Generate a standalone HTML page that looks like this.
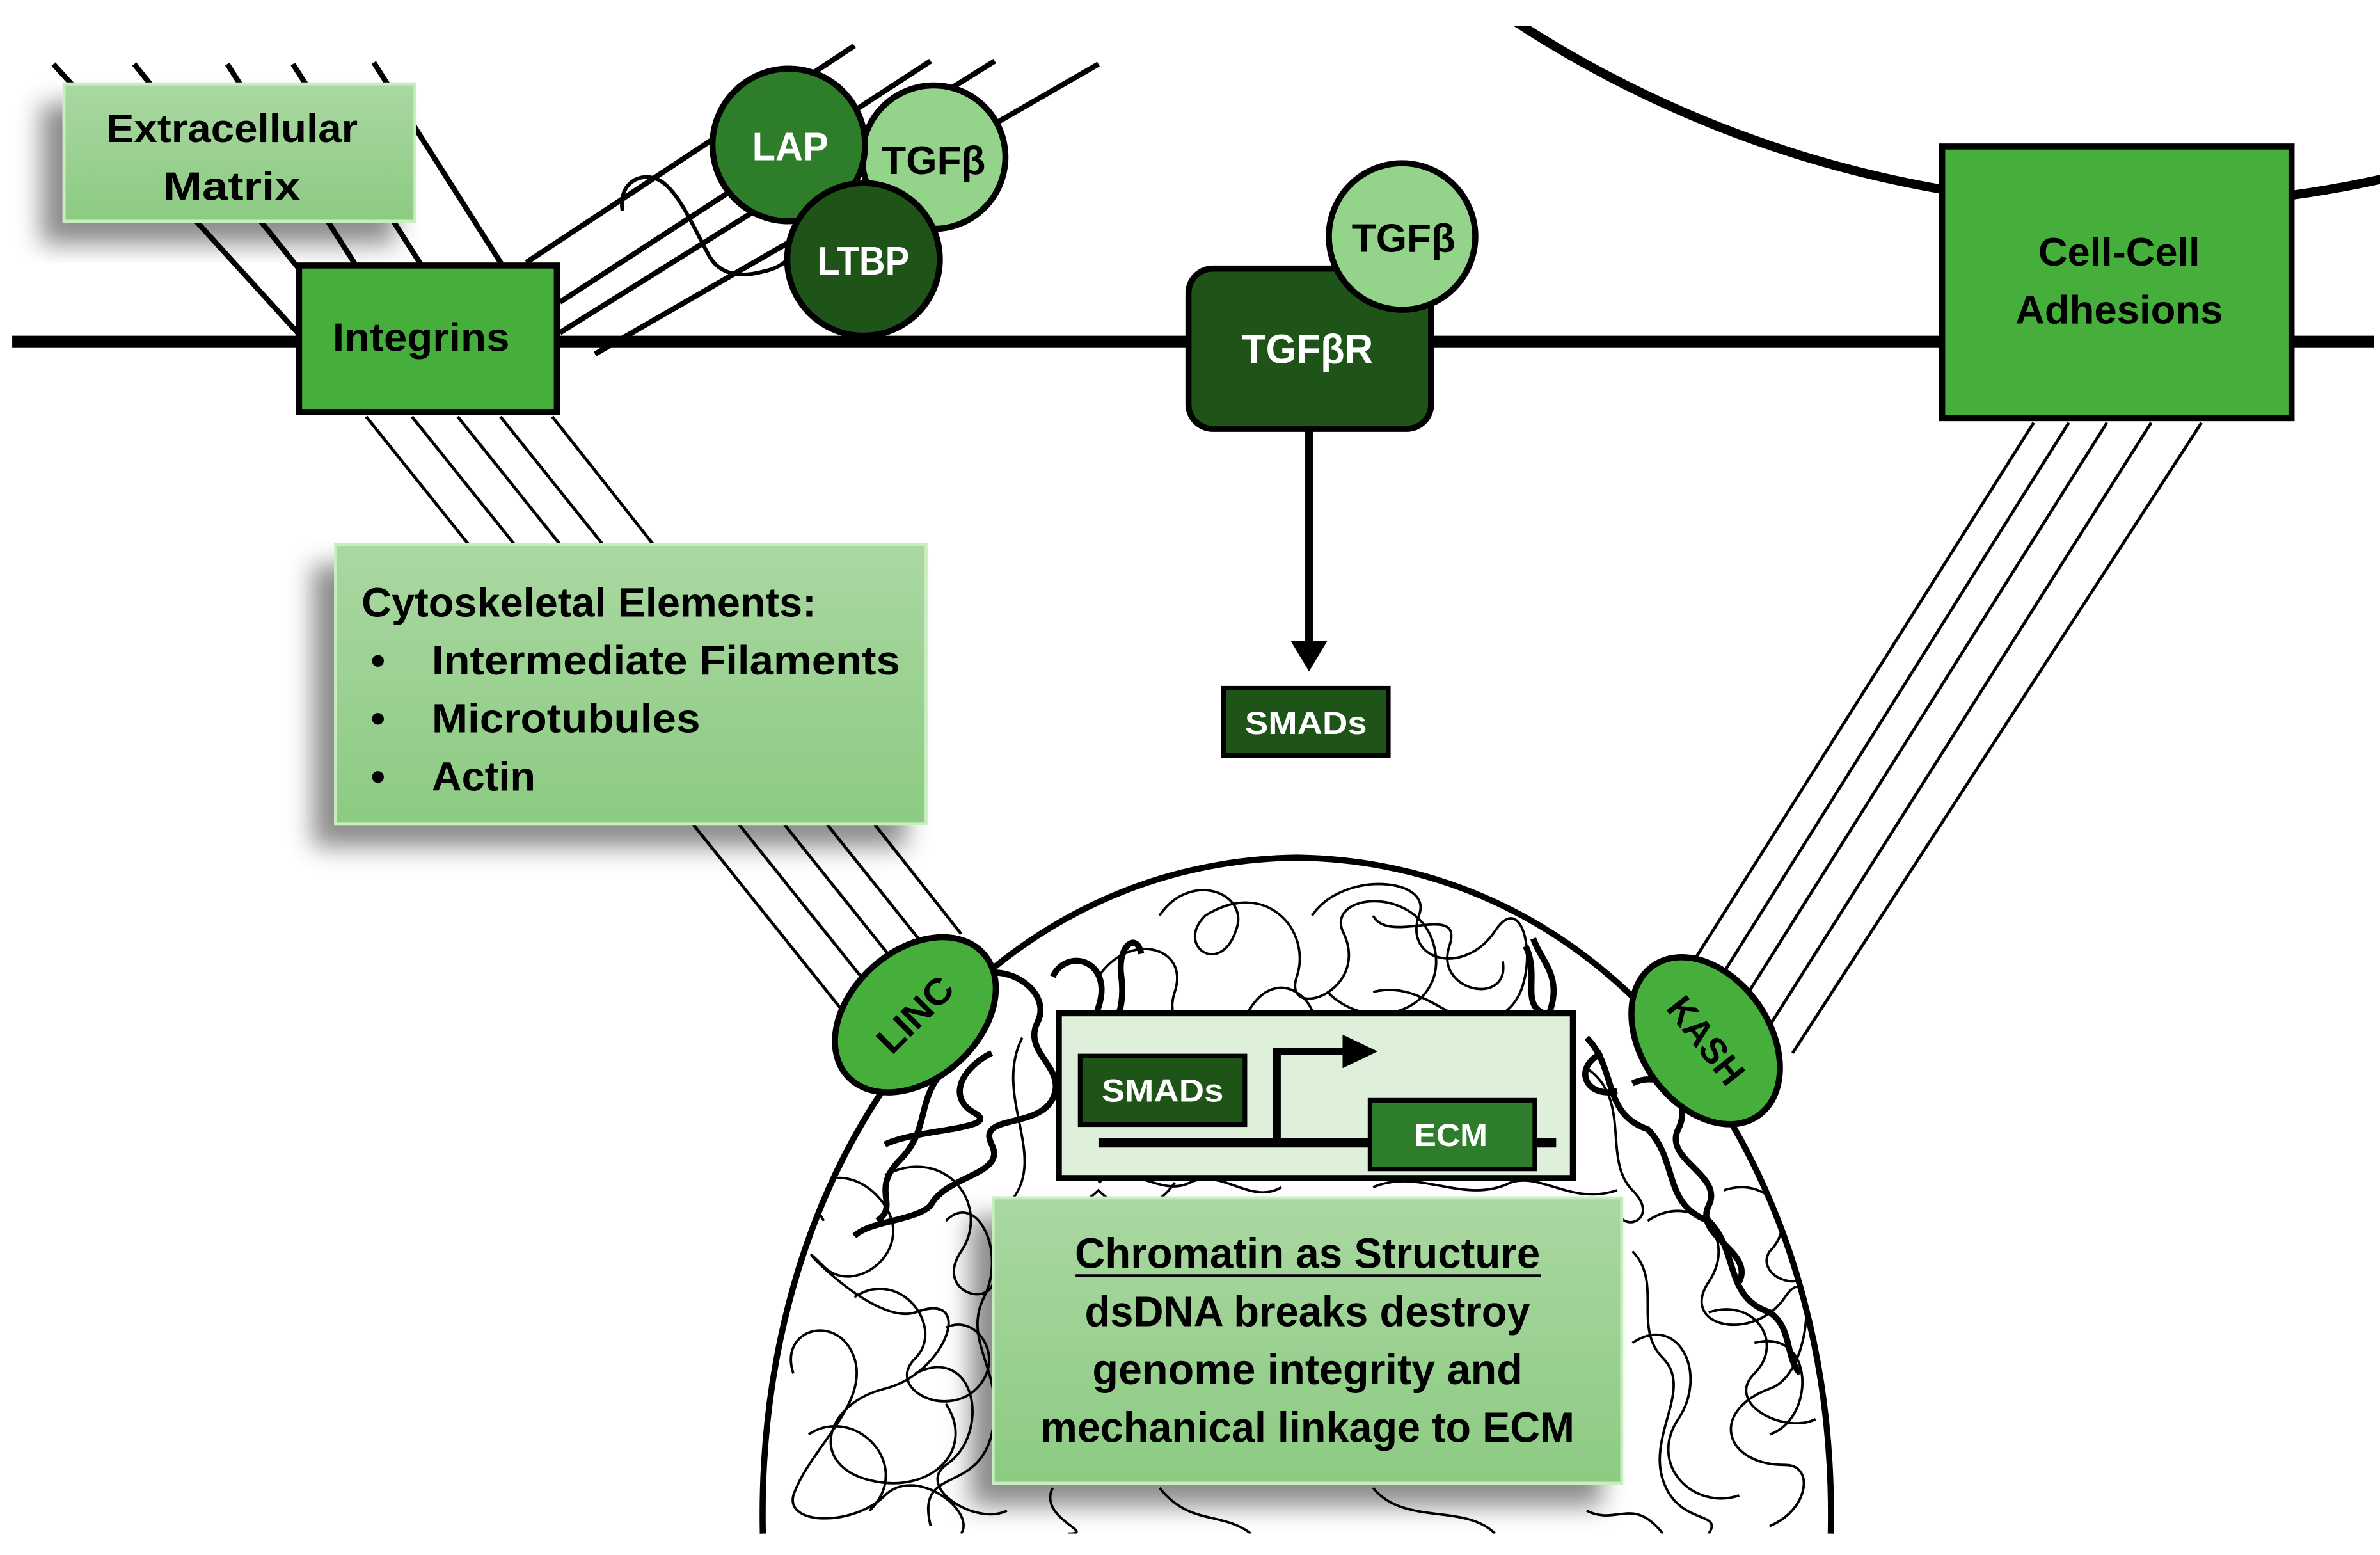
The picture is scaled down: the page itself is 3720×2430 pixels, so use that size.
<!DOCTYPE html>
<html><head><meta charset="utf-8"><style>
html,body{margin:0;padding:0;background:#fff;}
svg{display:block;}
text{font-family:"Liberation Sans",sans-serif;font-weight:bold;}
</style></head><body>
<svg width="3720" height="2430" viewBox="0 0 1560 1019" preserveAspectRatio="none" xmlns="http://www.w3.org/2000/svg">
<defs>
<linearGradient id="lg" x1="0" y1="0" x2="0" y2="1"><stop offset="0" stop-color="#aad8a2"/><stop offset="1" stop-color="#8ccb82"/></linearGradient>
<filter id="sh" x="-20%" y="-20%" width="140%" height="150%"><feDropShadow dx="-14" dy="14" stdDeviation="8" flood-color="#000" flood-opacity="0.45"/></filter>
<clipPath id="top"><rect x="0" y="17" width="1560" height="1002"/></clipPath>
<clipPath id="nuc"><path d="M500,1005 C495,760 640,565 850,562 C1060,565 1205,760 1200,1005 Z"/></clipPath>
</defs>

<circle cx="1400" cy="-610" r="745" fill="none" stroke="#000" stroke-width="6" clip-path="url(#top)"/>

<line x1="8" y1="224" x2="1556" y2="224" stroke="#000" stroke-width="8"/>

<g stroke="#000" stroke-width="3.5">
<line x1="35" y1="42" x2="195" y2="218"/>
<line x1="88" y1="42" x2="195" y2="175"/>
<line x1="149" y1="42" x2="234" y2="175"/>
<line x1="192" y1="42" x2="277" y2="175"/>
<line x1="245" y1="41" x2="330" y2="175"/>
</g>
<g stroke="#000" stroke-width="3.5" fill="none">
<line x1="345" y1="172" x2="560" y2="30"/>
<line x1="367" y1="198" x2="610" y2="40"/>
<line x1="367" y1="218" x2="652" y2="40"/>
<line x1="390" y1="232" x2="720" y2="42"/>
<path d="M408,138 C405,120 420,112 432,118 C445,125 455,150 465,168 C472,180 485,182 500,178 C510,176 515,172 518,168" stroke-width="2.5"/>
</g>

<rect x="42" y="55" width="230" height="90" fill="url(#lg)" filter="url(#sh)" stroke="#c8eec0" stroke-width="2"/>
<text x="152" y="93" font-size="26" text-anchor="middle" textLength="165" lengthAdjust="spacingAndGlyphs">Extracellular</text>
<text x="152" y="131" font-size="26" text-anchor="middle" textLength="90" lengthAdjust="spacingAndGlyphs">Matrix</text>

<rect x="196" y="174" width="169" height="96" fill="#46af3c" stroke="#000" stroke-width="4"/>
<text x="276" y="230" font-size="26" text-anchor="middle" textLength="116" lengthAdjust="spacingAndGlyphs">Integrins</text>

<circle cx="612" cy="103" r="47" fill="#94d38a" stroke="#000" stroke-width="4"/>
<text x="612" y="114" font-size="26" text-anchor="middle" textLength="68" lengthAdjust="spacingAndGlyphs">TGFβ</text>
<circle cx="517" cy="95" r="50" fill="#2e7d2a" stroke="#000" stroke-width="4"/>
<text x="518" y="105" font-size="26" fill="#fff" text-anchor="middle" textLength="50" lengthAdjust="spacingAndGlyphs">LAP</text>
<circle cx="566" cy="170" r="50" fill="#1e5418" stroke="#000" stroke-width="4"/>
<text x="566" y="180" font-size="26" fill="#fff" text-anchor="middle" textLength="60" lengthAdjust="spacingAndGlyphs">LTBP</text>

<rect x="779" y="176" width="159" height="105" rx="16" fill="#1e5418" stroke="#000" stroke-width="4"/>
<text x="857" y="238" font-size="27" fill="#fff" text-anchor="middle" textLength="86" lengthAdjust="spacingAndGlyphs">TGFβR</text>
<circle cx="919" cy="155" r="48" fill="#94d38a" stroke="#000" stroke-width="4"/>
<text x="920" y="165" font-size="26" text-anchor="middle" textLength="68" lengthAdjust="spacingAndGlyphs">TGFβ</text>
<line x1="858" y1="281" x2="858" y2="425" stroke="#000" stroke-width="5"/>
<path d="M846,420 L870,420 L858,440 Z" fill="#000"/>
<rect x="802" y="451" width="108" height="44" fill="#1e5418" stroke="#000" stroke-width="3"/>
<text x="856" y="481" font-size="21" fill="#fff" text-anchor="middle" textLength="80" lengthAdjust="spacingAndGlyphs">SMADs</text>

<rect x="1273" y="96" width="229" height="178" fill="#46af3c" stroke="#000" stroke-width="4"/>
<text x="1389" y="174" font-size="26" text-anchor="middle" textLength="106" lengthAdjust="spacingAndGlyphs">Cell-Cell</text>
<text x="1389" y="212" font-size="26" text-anchor="middle" textLength="136" lengthAdjust="spacingAndGlyphs">Adhesions</text>

<g stroke="#000" stroke-width="2">
<line x1="1333" y1="277" x2="1110" y2="630"/>
<line x1="1356" y1="277" x2="1125" y2="645"/>
<line x1="1381" y1="277" x2="1140" y2="660"/>
<line x1="1410" y1="277" x2="1160" y2="672"/>
<line x1="1443" y1="277" x2="1175" y2="690"/>
</g>

<g stroke="#000" stroke-width="2">
<line x1="240" y1="273" x2="560" y2="672"/>
<line x1="270" y1="273" x2="578" y2="657"/>
<line x1="300" y1="273" x2="594" y2="640"/>
<line x1="328" y1="273" x2="610" y2="625"/>
<line x1="362" y1="273" x2="630" y2="612"/>
</g>

<path d="M500,1005 C495,760 640,565 850,562 C1060,565 1205,760 1200,1005" fill="none" stroke="#000" stroke-width="4"/>

<g fill="none" stroke="#000" stroke-width="1.6" clip-path="url(#nuc)">
<path d="M760,600 C780,570 820,585 810,610 C800,640 770,620 790,600 C830,575 860,610 850,640 C840,670 900,650 880,610 C870,585 930,580 940,620 C950,660 900,680 870,650"/>
<path d="M860,600 C880,570 940,575 930,600 C920,630 960,640 980,610 C1000,580 1010,640 990,660 C960,690 940,640 900,650"/>
<path d="M720,640 C740,610 780,620 770,650 C760,680 800,690 820,660 C840,630 870,660 860,680"/>
<path d="M900,600 C910,620 960,590 950,620 C940,650 990,660 985,630"/>
<path d="M540,800 C520,770 560,760 580,790 C600,820 560,850 540,830 C510,800 570,870 600,860 C640,845 620,900 580,910 C540,920 530,960 570,970 C610,980 640,950 620,920"/>
<path d="M520,900 C510,870 550,860 560,890 C570,920 530,950 520,980 C515,1000 560,1000 580,980 C600,960 640,990 630,1005"/>
<path d="M580,770 C620,750 650,790 630,820 C610,850 660,860 650,830"/>
<path d="M600,900 C640,880 650,940 620,960 C600,975 640,1000 660,990"/>
<path d="M560,850 C590,830 620,870 600,890 C580,910 620,930 640,910 C660,890 640,860 620,870"/>
<path d="M530,940 C560,920 600,960 570,990"/>
<path d="M620,800 C640,780 660,820 645,850 C630,880 660,900 650,940 C640,980 600,960 610,1000"/>
<path d="M1080,800 C1110,780 1140,810 1120,840 C1100,870 1150,880 1170,850 C1190,820 1190,900 1160,910 C1120,925 1130,960 1170,960 C1190,960 1185,990 1160,1000"/>
<path d="M1070,880 C1100,860 1120,900 1100,930 C1080,960 1110,990 1140,980"/>
<path d="M1130,780 C1160,770 1180,800 1160,820 C1150,835 1180,850 1190,830"/>
<path d="M1150,880 C1190,870 1190,930 1160,940"/>
<path d="M1070,820 C1090,840 1070,870 1090,890 C1110,910 1080,940 1090,970 C1100,1000 1130,990 1120,1005"/>
<path d="M1120,860 C1150,850 1170,880 1150,900 C1130,920 1170,940 1190,930"/>
<path d="M670,680 C650,720 690,760 660,790 C640,810 700,800 720,780 C740,800 760,790 770,775"/>
<path d="M1040,700 C1070,720 1050,760 1070,780 C1090,800 1060,810 1060,790"/>
<path d="M690,975 C680,995 720,1005 700,1005"/>
<path d="M760,975 C780,1000 800,990 820,1005"/>
<path d="M900,975 C920,1000 960,985 980,1005"/>
<path d="M1040,990 C1060,1000 1070,980 1090,1005"/>
<path d="M720,775 C740,760 760,785 780,775 C800,765 820,790 840,778"/>
<path d="M900,778 C930,765 960,790 990,775 C1010,768 1030,790 1060,780"/>
</g>
<g fill="none" stroke="#000" stroke-width="4">
<path d="M640,640 C660,630 690,650 680,670 C670,690 700,700 690,720 C680,740 640,730 650,750 C660,770 620,770 610,790 C600,800 570,800 560,810"/>
<path d="M690,640 C700,620 730,630 720,660 C710,690 740,680 735,640 C732,620 745,610 748,625"/>
<path d="M650,690 C630,700 620,720 640,730 C655,740 600,740 580,750"/>
<path d="M620,700 C600,720 610,740 590,760 C570,780 590,790 575,800"/>
<path d="M1000,620 C1010,640 995,660 1015,665 C1025,640 1010,630 1005,615"/>
<path d="M1040,680 C1060,700 1050,730 1080,740 C1100,760 1090,790 1120,800 C1140,820 1130,850 1160,860 C1175,870 1170,890 1180,900"/>
<path d="M1070,710 C1090,700 1110,720 1100,740 C1090,760 1130,770 1120,790 C1110,810 1150,820 1140,840"/>
<path d="M1050,690 C1030,700 1040,720 1060,715"/>
</g>

<ellipse cx="600" cy="665" rx="60" ry="42" transform="rotate(-42 600 665)" fill="#46af3c" stroke="#000" stroke-width="4"/>
<text x="600" y="673" font-size="24" text-anchor="middle" transform="rotate(-45 600 665)" textLength="60" lengthAdjust="spacingAndGlyphs">LINC</text>
<ellipse cx="1118" cy="682" rx="60" ry="42" transform="rotate(55 1118 682)" fill="#46af3c" stroke="#000" stroke-width="4"/>
<text x="1118" y="690" font-size="24" text-anchor="middle" transform="rotate(52 1118 682)" textLength="66" lengthAdjust="spacingAndGlyphs">KASH</text>

<rect x="694" y="664" width="337" height="108" fill="#dff0da" stroke="#000" stroke-width="4"/>
<rect x="708" y="692" width="108" height="45" fill="#1e5418" stroke="#000" stroke-width="3"/>
<text x="762" y="722" font-size="21" fill="#fff" text-anchor="middle" textLength="80" lengthAdjust="spacingAndGlyphs">SMADs</text>
<line x1="720" y1="749" x2="1020" y2="749" stroke="#000" stroke-width="6"/>
<path d="M837,749 L837,689 L880,689" fill="none" stroke="#000" stroke-width="5"/>
<path d="M880,678 L903,689 L880,700 Z" fill="#000"/>
<rect x="898" y="721" width="108" height="45" fill="#2e7d2a" stroke="#000" stroke-width="3"/>
<text x="951" y="751" font-size="21" fill="#fff" text-anchor="middle" textLength="48" lengthAdjust="spacingAndGlyphs">ECM</text>

<rect x="220" y="357" width="387" height="183" fill="url(#lg)" filter="url(#sh)" stroke="#c8eec0" stroke-width="2"/>
<text x="237" y="404" font-size="27" textLength="298" lengthAdjust="spacingAndGlyphs">Cytoskeletal Elements:</text>
<text x="243" y="442" font-size="27">•</text>
<text x="283" y="442" font-size="27" textLength="307" lengthAdjust="spacingAndGlyphs">Intermediate Filaments</text>
<text x="243" y="480" font-size="27">•</text>
<text x="283" y="480" font-size="27" textLength="176" lengthAdjust="spacingAndGlyphs">Microtubules</text>
<text x="243" y="518" font-size="27">•</text>
<text x="283" y="518" font-size="27" textLength="68" lengthAdjust="spacingAndGlyphs">Actin</text>

<rect x="651" y="785" width="412" height="187" fill="url(#lg)" filter="url(#sh)" stroke="#c8eec0" stroke-width="2"/>
<text x="857" y="831" font-size="28" text-anchor="middle" textLength="305" lengthAdjust="spacingAndGlyphs">Chromatin as Structure</text>
<line x1="705" y1="836" x2="1010" y2="836" stroke="#000" stroke-width="2"/>
<text x="857" y="869" font-size="28" text-anchor="middle" textLength="292" lengthAdjust="spacingAndGlyphs">dsDNA breaks destroy</text>
<text x="857" y="907" font-size="28" text-anchor="middle" textLength="282" lengthAdjust="spacingAndGlyphs">genome integrity and</text>
<text x="857" y="945" font-size="28" text-anchor="middle" textLength="350" lengthAdjust="spacingAndGlyphs">mechanical linkage to ECM</text>
</svg>
</body></html>
